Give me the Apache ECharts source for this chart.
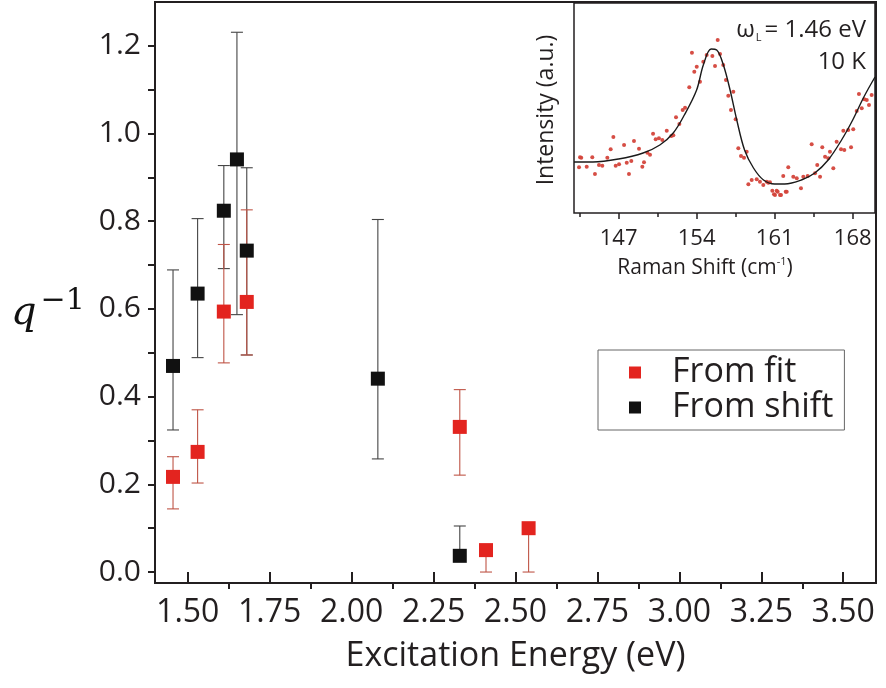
<!DOCTYPE html>
<html>
<head>
<meta charset="utf-8">
<script src="https://cdn.jsdelivr.net/npm/echarts@6/dist/echarts.min.js"></script>
<style>
  html, body { margin: 0; padding: 0; background: #fff; }
  #chart { width: 886px; height: 688px; }
</style>
</head>
<body>
<div id="chart"></div>
<script>
// Inverse Fano asymmetry q^-1 obtained from the line-shape fit
const fitEnergy = [1.455, 1.53, 1.61, 1.68, 2.33, 2.41, 2.54];
const fitValue  = [0.217, 0.274, 0.594, 0.616, 0.331, 0.050, 0.100];
const fitUpper  = [0.263, 0.370, 0.747, 0.826, 0.416, 0.050, 0.100];
const fitLower  = [0.144, 0.203, 0.477, 0.495, 0.221, 0.000, 0.000];

// q^-1 obtained from the phonon frequency shift
const shiftEnergy = [1.455, 1.53, 1.61, 1.65, 1.68, 2.08, 2.33];
const shiftValue  = [0.470, 0.635, 0.824, 0.941, 0.733, 0.441, 0.037];
const shiftUpper  = [0.689, 0.806, 0.927, 1.231, 0.922, 0.804, 0.105];
const shiftLower  = [0.324, 0.489, 0.692, 0.587, 0.495, 0.258, 0.037];

// Axis ticks of the main panel
const energyTicks = [1.5, 1.75, 2.0, 2.25, 2.5, 2.75, 3.0, 3.25, 3.5];
const energyMinorTicks = [1.625, 1.875, 2.125, 2.375, 2.625, 2.875, 3.125, 3.375];
const qTicks = [0, 0.2, 0.4, 0.6, 0.8, 1.0, 1.2];
const qAllTicks = [0, 0.1, 0.2, 0.3, 0.4, 0.5, 0.6, 0.7, 0.8, 0.9, 1.0, 1.1, 1.2];

// Inset: Raman spectrum at 1.46 eV, 10 K (measured points)
const ramanShift = [143.45, 143.54, 143.65, 144.14, 144.64, 144.88, 145.24, 145.54, 145.99, 146.29,
  146.53, 146.74, 147.04, 147.49, 147.73, 147.93, 148.14, 148.38, 148.83, 149.13,
  149.28, 149.58, 149.82, 150.09, 150.33, 150.62, 150.92, 151.32, 151.73, 151.91,
  152.15, 152.45, 152.75, 152.96, 153.34, 153.58, 153.79, 154.01, 154.30, 154.60,
  154.90, 155.41, 155.65, 155.89, 156.10, 156.39, 156.63, 156.84, 157.08, 157.29,
  157.50, 157.74, 157.98, 158.25, 158.49, 158.64, 158.94, 159.39, 159.68, 159.98,
  160.29, 160.43, 160.58, 160.79, 160.94, 161.03, 161.18, 161.27, 161.48, 161.57,
  161.77, 161.99, 162.08, 162.22, 162.67, 162.98, 163.36, 163.57, 163.96, 164.32,
  164.62, 164.82, 165.07, 165.27, 165.52, 165.81, 165.96, 166.26, 166.56, 166.95,
  167.16, 167.25, 167.60, 167.85, 168.05, 168.36, 168.56, 168.81, 169.04, 169.26,
  169.46, 169.70];
const ramanIntensity = [45.7, 55.7, 55.3, 46.3, 55.7, 39.0, 48.0, 47.3, 55.3, 63.7,
  76.0, 47.3, 48.7, 68.0, 50.3, 39.0, 52.0, 72.0, 64.3, 46.3,
  50.7, 60.3, 58.3, 79.3, 73.7, 74.7, 73.0, 82.3, 77.0, 77.7,
  95.7, 89.0, 103.0, 105.3, 125.7, 160.3, 141.3, 146.3, 131.3, 151.3,
  158.0, 157.0, 147.0, 173.0, 159.0, 148.0, 133.0, 117.3, 103.0, 121.3,
  93.7, 64.7, 57.0, 55.3, 61.3, 28.7, 33.0, 33.7, 31.3, 28.0,
  31.3, 30.3, 30.7, 22.3, 18.7, 18.0, 22.3, 21.3, 18.0, 18.0,
  37.0, 21.3, 21.3, 45.7, 36.3, 34.7, 24.7, 36.3, 37.0, 68.7,
  39.7, 48.0, 36.3, 65.7, 56.3, 54.7, 61.3, 44.7, 71.3, 63.7,
  82.3, 63.0, 83.0, 65.7, 83.7, 102.0, 119.0, 104.7, 113.7, 113.0,
  108.0, 118.0];

// Inset: fitted Fano line shape
const fanoShift = [143.0, 144.7, 147.0, 149.2, 150.7, 151.9, 152.9, 154.0, 154.6, 155.3,
  155.8, 156.4, 157.0, 157.6, 158.3, 159.1, 160.0, 161.0, 161.9, 163.4,
  164.6, 165.8, 167.0, 168.0, 169.0, 170.0];
const fanoIntensity = [51, 51, 54, 60, 68, 80, 98, 123, 148, 164,
  163, 148, 123, 93, 63, 45, 33, 29, 29, 33,
  40, 53, 73, 93, 116, 136];

const ramanTicks = [147, 154, 161, 168];
const ramanMinorTicks = [143.5, 150.5, 157.5, 164.5];

const zip = (a, b) => a.map((v, i) => [v, b[i]]);
const bars = (e, v, lo, hi) => e.map((x, i) => [x, lo[i], hi[i], v[i]]);

const INK = '#231f20';
const RED = '#e3241f';
const BLACK = '#111111';

function errorBarRenderer(color) {
  return function (params, api) {
    const x = api.value(0), lo = api.value(1), hi = api.value(2), v = api.value(3);
    const top = api.coord([x, hi]);
    const bot = api.coord([x, lo]);
    const half = 6;
    const style = { stroke: color, lineWidth: 1.1 };
    const children = [];
    if (hi !== lo) {
      children.push({ type: 'line', shape: { x1: top[0], y1: top[1], x2: bot[0], y2: bot[1] }, style });
    }
    if (hi > v) {
      children.push({ type: 'line', shape: { x1: top[0] - half, y1: top[1], x2: top[0] + half, y2: top[1] }, style });
    }
    if (lo < v) {
      children.push({ type: 'line', shape: { x1: bot[0] - half, y1: bot[1], x2: bot[0] + half, y2: bot[1] }, style });
    }
    return { type: 'group', children };
  };
}

const chart = echarts.init(document.getElementById('chart'), null, { renderer: 'canvas' });

const numFont = "'Open Sans', 'Liberation Sans', sans-serif";

chart.setOption({
  backgroundColor: '#fff',
  animation: false,
  grid: [
    { left: 155, top: 2, width: 721, height: 581, show: true, borderColor: INK, borderWidth: 2, backgroundColor: 'transparent' },
    { left: 574, top: 3, width: 301, height: 210, show: true, borderColor: INK, borderWidth: 1.5, backgroundColor: '#fff', z: 5 }
  ],
  legend: {
    data: ['From fit', 'From shift'],
    orient: 'vertical',
    left: 598, top: 350,
    icon: 'rect',
    itemWidth: 12, itemHeight: 12,
    itemGap: 0,
    padding: [5, 11, 5, 31],
    borderColor: '#666', borderWidth: 1,
    backgroundColor: '#fff',
    textStyle: { fontFamily: numFont, fontSize: 34, color: INK, padding: [0, 0, 0, 26], lineHeight: 35 }
  },
  xAxis: [
    {
      gridIndex: 0, type: 'value', min: 1.4, max: 3.6,
      name: 'Excitation Energy (eV)', nameLocation: 'middle', nameGap: 56,
      nameTextStyle: { fontFamily: numFont, fontSize: 34, color: INK },
      axisLine: { show: false },
      axisTick: { show: true, inside: false, length: 10, customValues: energyTicks, lineStyle: { color: INK, width: 2 } },
      axisLabel: { customValues: energyTicks, margin: 14, fontFamily: numFont, fontSize: 32, color: INK,
        formatter: v => v.toFixed(2) },
      splitLine: { show: false }
    },
    {
      gridIndex: 0, type: 'value', min: 1.4, max: 3.6, position: 'bottom',
      axisLine: { show: false },
      axisTick: { show: true, length: 6, customValues: energyMinorTicks, lineStyle: { color: INK, width: 2 } },
      axisLabel: { show: false },
      splitLine: { show: false }
    },
    {
      gridIndex: 1, type: 'value', min: 143, max: 170,
      axisLine: { show: false },
      axisTick: { show: true, length: 6, customValues: ramanTicks, lineStyle: { color: INK, width: 1.5 } },
      axisLabel: { customValues: ramanTicks, margin: 15, fontFamily: numFont, fontSize: 22, color: INK },
      splitLine: { show: false }
    },
    {
      gridIndex: 1, type: 'value', min: 143, max: 170, position: 'bottom',
      axisLine: { show: false },
      axisTick: { show: true, length: 4, customValues: ramanMinorTicks, lineStyle: { color: INK, width: 1.5 } },
      axisLabel: { show: false },
      splitLine: { show: false }
    }
  ],
  yAxis: [
    {
      gridIndex: 0, type: 'value', min: -0.025, max: 1.3,
      axisLine: { show: false },
      axisTick: { show: true, length: 7, customValues: qAllTicks, lineStyle: { color: INK, width: 2 } },
      axisLabel: { customValues: qTicks, margin: 14, fontFamily: numFont, fontSize: 30, color: INK,
        formatter: v => v.toFixed(1) },
      splitLine: { show: false }
    },
    {
      gridIndex: 1, type: 'value', min: 0, max: 210,
      axisLine: { show: false }, axisTick: { show: false }, axisLabel: { show: false },
      splitLine: { show: false }
    }
  ],
  series: [
    {
      type: 'custom', name: 'shift-err', xAxisIndex: 0, yAxisIndex: 0,
      renderItem: errorBarRenderer('#454545'),
      encode: { x: 0, y: [1, 2] },
      data: bars(shiftEnergy, shiftValue, shiftLower, shiftUpper), z: 1
    },
    {
      type: 'custom', name: 'fit-err', xAxisIndex: 0, yAxisIndex: 0,
      renderItem: errorBarRenderer('#bf5446'),
      encode: { x: 0, y: [1, 2] },
      data: bars(fitEnergy, fitValue, fitLower, fitUpper), z: 1
    },
    {
      type: 'scatter', name: 'From shift', xAxisIndex: 0, yAxisIndex: 0,
      symbol: 'rect', symbolSize: 14,
      itemStyle: { color: BLACK, opacity: 1 },
      emphasis: { disabled: true },
      data: zip(shiftEnergy, shiftValue), z: 3
    },
    {
      type: 'scatter', name: 'From fit', xAxisIndex: 0, yAxisIndex: 0,
      symbol: 'rect', symbolSize: 14,
      itemStyle: { color: RED, opacity: 1 },
      emphasis: { disabled: true },
      data: zip(fitEnergy, fitValue), z: 3
    },
    {
      type: 'scatter', name: 'spectrum', xAxisIndex: 2, yAxisIndex: 1,
      symbol: 'circle', symbolSize: 4,
      itemStyle: { color: '#d4453b', opacity: 0.95 },
      emphasis: { disabled: true },
      data: zip(ramanShift, ramanIntensity), z: 6
    },
    {
      type: 'line', name: 'fano', xAxisIndex: 2, yAxisIndex: 1,
      smooth: 0.35, showSymbol: false,
      lineStyle: { color: '#1a1a1a', width: 1.4 },
      data: zip(fanoShift, fanoIntensity), z: 7
    }
  ],
  graphic: [
    {
      type: 'text', x: 11, y: 342, z: 10,
      style: {
        rich: {
          q: { fontFamily: "'DejaVu Serif', serif", fontStyle: 'italic', fontSize: 40, fill: '#111' },
          s: { fontFamily: "'DejaVu Serif', serif", fontSize: 30, fill: '#111', padding: [0, 0, 26, 4] }
        },
        text: '{q|q}{s|−1}',
        verticalAlign: 'bottom'
      }
    },
    {
      type: 'text', x: 546, y: 110, rotation: Math.PI / 2, z: 10,
      style: { text: 'Intensity (a.u.)', fontFamily: numFont, fontSize: 23, fill: INK, align: 'center', verticalAlign: 'middle' }
    },
    {
      type: 'text', x: 705, y: 268, z: 10,
      style: {
        rich: {
          a: { fontFamily: numFont, fontSize: 21, fill: INK },
          s: { fontFamily: numFont, fontSize: 11, fill: INK, padding: [0, 0, 12, 0] }
        },
        text: '{a|Raman Shift (cm}{s|-1}{a|)}',
        align: 'center', verticalAlign: 'middle'
      }
    },
    {
      type: 'text', x: 866, y: 30, z: 10,
      style: {
        rich: {
          a: { fontFamily: numFont, fontSize: 24, fill: INK },
          l: { fontFamily: numFont, fontSize: 11, fill: INK, padding: [16, 3, 0, 1] }
        },
        text: '{a|ω}{l|L}{a|= 1.46 eV}',
        align: 'right', verticalAlign: 'middle'
      }
    },
    {
      type: 'text', x: 866, y: 62, z: 10,
      style: { text: '10 K', fontFamily: numFont, fontSize: 24, fill: INK, align: 'right', verticalAlign: 'middle' }
    }
  ]
});
</script>
</body>
</html>
